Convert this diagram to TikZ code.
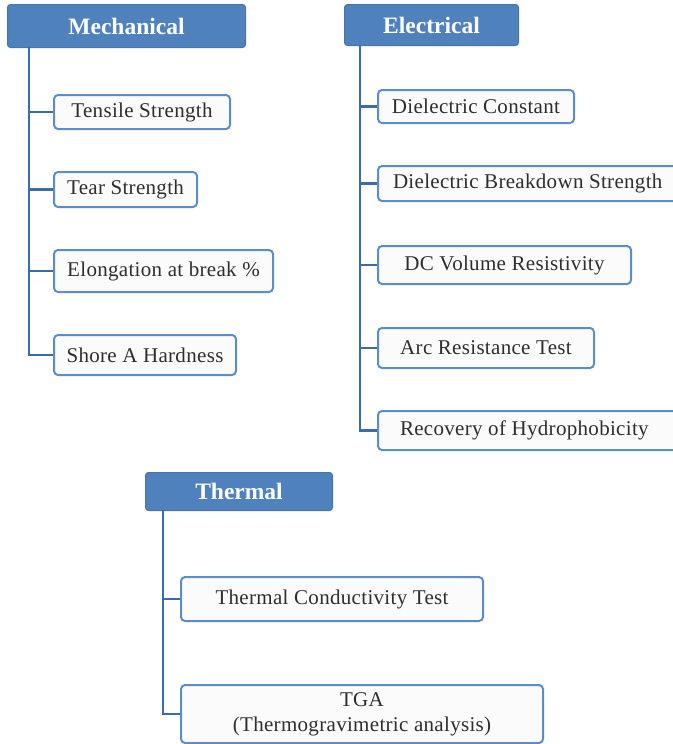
\documentclass[tikz,border=0pt]{standalone}
\usepackage{fontspec}
\setmainfont{LiberationSerif}[Extension=.ttf, UprightFont=*-Regular, BoldFont=*-Bold, ItalicFont=*-Italic, BoldItalicFont=*-BoldItalic]
\newfontfamily\itemfont{LiberationSerif}[Extension=.ttf, UprightFont=*-Regular, BoldFont=*-Bold, LetterSpace=1.5]
\definecolor{headblue}{HTML}{4F81BD}
\definecolor{lineblue}{HTML}{3D6BA6}
\definecolor{boxedge}{HTML}{5B8DCB}
\definecolor{boxfill}{HTML}{FBFBFB}
\definecolor{txt}{HTML}{2E2E2E}
\tikzset{
  head/.style={draw=headblue!90!black, fill=headblue, rounded corners=3pt, line width=1pt,
    text=white, font=\fontsize{23.5}{26}\selectfont\bfseries, anchor=north west, inner sep=0pt},
  item/.style={draw=boxedge, fill=boxfill, rounded corners=4pt, line width=2pt,
    text=txt, font=\itemfont\fontsize{21}{25}\selectfont, anchor=north west, inner sep=0pt, align=center},
  conn/.style={draw=lineblue, line width=2.8pt}
}
\begin{document}
\begin{tikzpicture}[x=1pt,y=-1pt]
\useasboundingbox (0,0) rectangle (672,744);
% Mechanical
\node[head, minimum width=238pt, minimum height=43pt] (mech) at (7,4) {Mechanical};
\coordinate (m0) at (29,47);
\node[item, minimum width=176pt, minimum height=34pt] (ts) at (53,94) {Tensile Strength};
\node[item, minimum width=143pt, minimum height=35pt] (tear) at (53,171) {Tear Strength};
\node[item, minimum width=219pt, minimum height=42pt] (elong) at (53,249) {Elongation at break \%};
\node[item, minimum width=182pt, minimum height=40pt] (shore) at (53,334) {Shore A Hardness};
\foreach \c in {ts,tear,elong,shore} \draw[conn] (m0) |- (\c.west);
% Electrical
\node[head, minimum width=174pt, minimum height=41pt] (elec) at (344,4) {Electrical};
\coordinate (e0) at (360,45);
\node[item, minimum width=196pt, minimum height=33pt] (dc) at (377,89) {Dielectric Constant};
\node[item, minimum height=35pt] (dbs) at (377,165) {\makebox[310pt][l]{\hspace*{15pt}Dielectric Breakdown Strength}};
\node[item, minimum width=253pt, minimum height=38pt] (dcv) at (377,245) {DC Volume Resistivity};
\node[item, minimum width=216pt, minimum height=40pt] (arc) at (377,327) {Arc Resistance Test};
\node[item, minimum height=39pt] (rec) at (377,410) {\makebox[310pt][l]{\hspace*{22pt}Recovery of Hydrophobicity}};
\foreach \c in {dc,dbs,dcv,arc,rec} \draw[conn] (e0) |- (\c.west);
% Thermal
\node[head, minimum width=187pt, minimum height=38pt] (therm) at (145,472) {Thermal};
\coordinate (t0) at (163,510);
\node[item, minimum width=302pt, minimum height=44pt] (tc) at (180,576) {Thermal Conductivity Test};
\node[item, minimum width=362pt, minimum height=58pt] (tga) at (180,684) {TGA\\(Thermogravimetric analysis)};
\foreach \c in {tc,tga} \draw[conn] (t0) |- (\c.west);
\end{tikzpicture}
\end{document}
